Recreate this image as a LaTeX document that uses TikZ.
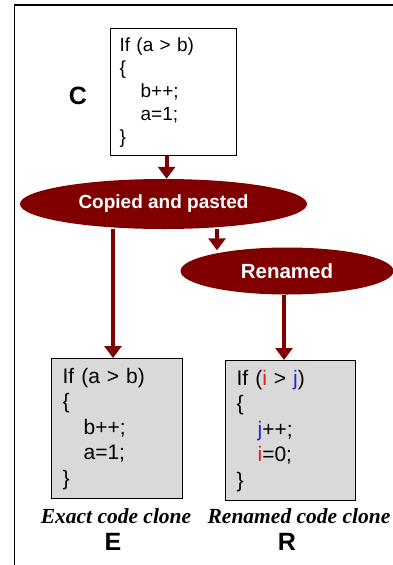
\documentclass[tikz,border=0pt]{standalone}
\usepackage{fontspec}
\setmainfont{Liberation Sans}
\newfontfamily\capfont{Liberation Serif}
\usetikzlibrary{shapes.geometric,arrows.meta,positioning}
\definecolor{maroon}{RGB}{128,0,0}
\definecolor{boxgray}{RGB}{217,217,217}
\definecolor{varred}{RGB}{228,28,28}
\definecolor{varblue}{RGB}{30,40,215}
\newcommand{\ind}{\hspace*{21pt}}
\tikzset{
	codebox/.style={draw=black, line width=1.2pt, align=left, anchor=north west, inner ysep=0pt},
	stage/.style={ellipse, fill=maroon, text=white, inner sep=0pt},
	flow/.style={draw=maroon, line width=4pt, -{Triangle[width=17pt,length=12pt]}},
	tag/.style={font=\bfseries\fontsize{25}{25}\selectfont},
	clonecap/.style={font=\capfont\bfseries\itshape\fontsize{21.5}{22}\selectfont}
}
\begin{document}
\begin{tikzpicture}[x=1pt,y=1pt]
	\useasboundingbox (0,0) rectangle (393,-565);
	\draw[line width=1.2pt] (14.5,-565) -- (14.5,-5) -- (393,-5);
	
	% original fragment
	\node[codebox, inner xsep=9pt, text width=108pt, minimum height=127pt, font=\fontsize{19}{23}\selectfont] (C) at (110,-28)
		{If (a > b)\\\{\\\ind b++;\\\ind a=1;\\\}};
	\node[tag] (lc) at (78,-96) {C};
	
	% the two steps
	\node[stage, minimum width=287pt, minimum height=50pt, font=\bfseries\fontsize{19}{19}\selectfont] (cp) at (163.5,-204) {Copied and pasted};
	\node[stage, minimum width=213pt, minimum height=47pt, font=\bfseries\fontsize{20.5}{21}\selectfont] (rn) at (287,-271) {Renamed};
	
	% the clones
	\node[codebox, fill=boxgray, inner xsep=11pt, text width=109pt, minimum height=140pt, font=\fontsize{21}{25.5}\selectfont] (E) at (51,-358)
		{If (a > b)\\\{\\\ind b++;\\\ind a=1;\\\}};
	\node[codebox, fill=boxgray, inner xsep=11pt, text width=108pt, minimum height=140pt, font=\fontsize{21}{25.5}\selectfont] (R) at (225,-360)
		{If ({\color{varred}i} > {\color{varblue}j})\\\{\\\ind{\color{varblue}j}++;\\\ind{\color{varred}i}=0;\\\}};
	
	\node[clonecap] (ce) at (116,-516) {Exact code clone};
	\node[clonecap] (cr) at (299,-516) {Renamed code clone};
	\node[tag] (le) at (113,-542) {E};
	\node[tag] (lr) at (287,-542) {R};
	
	\draw[flow] ([xshift=-7pt]C.south) -- ([xshift=-7pt]C.south |- cp.north);
	\draw[flow] ([xshift=53.5pt]cp.south) -- ([xshift=-70pt,yshift=-3pt]rn.north);
	\draw[flow] ([xshift=-50.5pt]cp.south) -- ([xshift=-50.5pt]cp.south |- E.north);
	\draw[flow] ([xshift=-3pt]rn.south) -- ([xshift=-3pt]rn.south |- R.north);
	
\end{tikzpicture}
\end{document}
